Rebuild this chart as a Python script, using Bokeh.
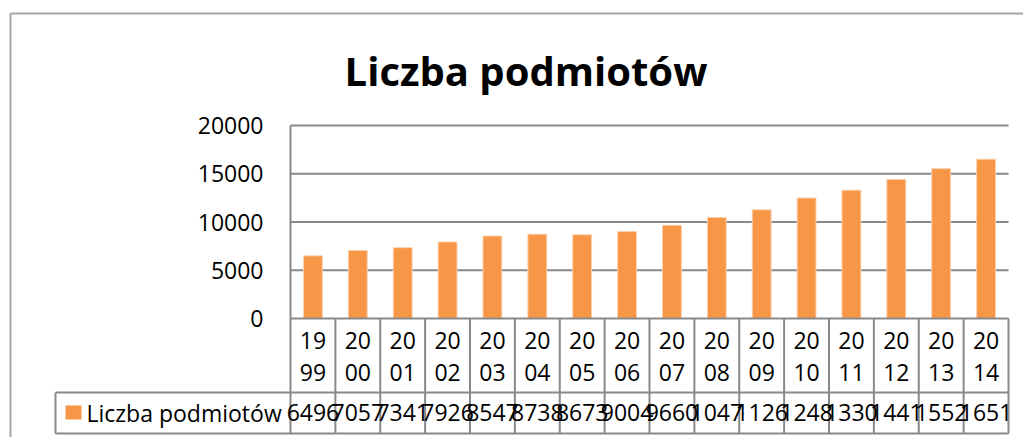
from bokeh.plotting import figure
from bokeh.models import Range1d
from bokeh.embed import file_html
from bokeh.resources import INLINE
from bokeh.core.properties import value

# ---- data ----
years = ["1999", "2000", "2001", "2002", "2003", "2004", "2005", "2006",
         "2007", "2008", "2009", "2010", "2011", "2012", "2013", "2014"]
counts = [6496, 7057, 7341, 7926, 8547, 8738, 8673, 9004,
          9660, 10473, 11264, 12486, 13302, 14418, 15527, 16513]
y_ticks = [0, 5000, 10000, 15000, 20000]
series_name = "Liczba podmiotów"
title_text = "Liczba podmiotów"

# the data table cell shows only the first line of a wrapped value
table_labels = [str(v)[:4] for v in counts]
year_top = [y[:2] for y in years]
year_bot = [y[2:] for y in years]

W, H = 1023, 437
FONT = value("Open Sans")
GRAY = "#898989"
ORANGE = "#F79646"
FS = "23px"

# layout in canvas pixels
frame_l, frame_r, frame_t, frame_b = 290, 1008, 125, 318
n = len(years)
cellw = (frame_r - frame_l) / n
ymax = 20000.0
ppv = (frame_b - frame_t) / ymax

x0 = -frame_l / cellw - 0.5
x1 = (W - frame_l) / cellw - 0.5
y0 = -(H - frame_b) / ppv
y1 = frame_b / ppv

p = figure(width=W, height=H, x_range=Range1d(x0, x1), y_range=Range1d(y0, y1),
           x_axis_type=None, y_axis_type=None, toolbar_location=None,
           output_backend="svg", min_border=0, title=None)
p.extra_x_ranges = {"px": Range1d(0, W)}
p.extra_y_ranges = {"py": Range1d(H, 0)}
p.outline_line_color = None
p.background_fill_color = "white"
p.border_fill_color = "white"

idx = list(range(n))

# outer chart border (left and top)
p.segment(x0=[10, 10], y0=[13, 13], x1=[W + 10, 10], y1=[13, H + 10],
          x_range_name="px", y_range_name="py", line_color="#a6a6a6", line_width=2)

# gridlines
gt = [t for t in y_ticks if t > 0]
p.segment(x0=[-0.5] * len(gt), y0=gt, x1=[n - 0.5] * len(gt), y1=gt,
          line_color=GRAY, line_width=2)
# y axis line
p.segment(x0=[-0.5], y0=[0], x1=[-0.5], y1=[ymax], line_color=GRAY, line_width=2)

# bars
p.vbar(x=idx, top=counts, bottom=0, width=0.42, fill_color=ORANGE,
       line_color="#fbd0ae", line_width=1)

# y tick labels
p.text(x=[263] * len(y_ticks), y=y_ticks, text=[str(t) for t in y_ticks],
       x_range_name="px", text_align="right", text_baseline="middle",
       text_font=FONT, text_font_size=FS, text_color="black")

# data table lines
row_sep, row_bot = 392, 433
legend_l = 55
p.segment(x0=[-0.5], y0=[frame_b], x1=[n - 0.5], y1=[frame_b], y_range_name="py",
          line_color=GRAY, line_width=2)
p.segment(x0=[legend_l, legend_l], y0=[row_sep, row_bot], x1=[frame_r, frame_r],
          y1=[row_sep, row_bot], x_range_name="px", y_range_name="py",
          line_color=GRAY, line_width=2)
p.segment(x0=[legend_l], y0=[row_sep], x1=[legend_l], y1=[row_bot],
          x_range_name="px", y_range_name="py", line_color=GRAY, line_width=2)
bounds = [i - 0.5 for i in range(n + 1)]
p.segment(x0=bounds, y0=[frame_b] * len(bounds), x1=bounds, y1=[row_bot] * len(bounds),
          y_range_name="py", line_color=GRAY, line_width=2)

# year labels (wrapped in two lines)
p.text(x=idx, y=[339.5] * n, text=year_top, y_range_name="py",
       text_align="center", text_baseline="middle", text_font=FONT,
       text_font_size=FS, text_color="black")
p.text(x=idx, y=[371.5] * n, text=year_bot, y_range_name="py",
       text_align="center", text_baseline="middle", text_font=FONT,
       text_font_size=FS, text_color="black")

# values row
p.text(x=idx, y=[412] * n, text=table_labels, y_range_name="py",
       text_align="center", text_baseline="middle", text_font=FONT,
       text_font_size=FS, text_color="black")

# legend key in table
p.quad(left=[65], right=[81], top=[405], bottom=[419], x_range_name="px",
       y_range_name="py", fill_color=ORANGE, line_color=None)
p.text(x=[86], y=[412], text=[series_name], x_range_name="px", y_range_name="py",
       text_align="left", text_baseline="middle", text_font=FONT,
       text_font_size=FS, text_color="black")

# title
p.text(x=[525.5], y=[70], text=[title_text], x_range_name="px", y_range_name="py",
       text_align="center", text_baseline="middle", text_font=FONT,
       text_font_size="40px", text_font_style="bold", text_color="black")

open("out.html", "w").write(file_html(p, INLINE))
